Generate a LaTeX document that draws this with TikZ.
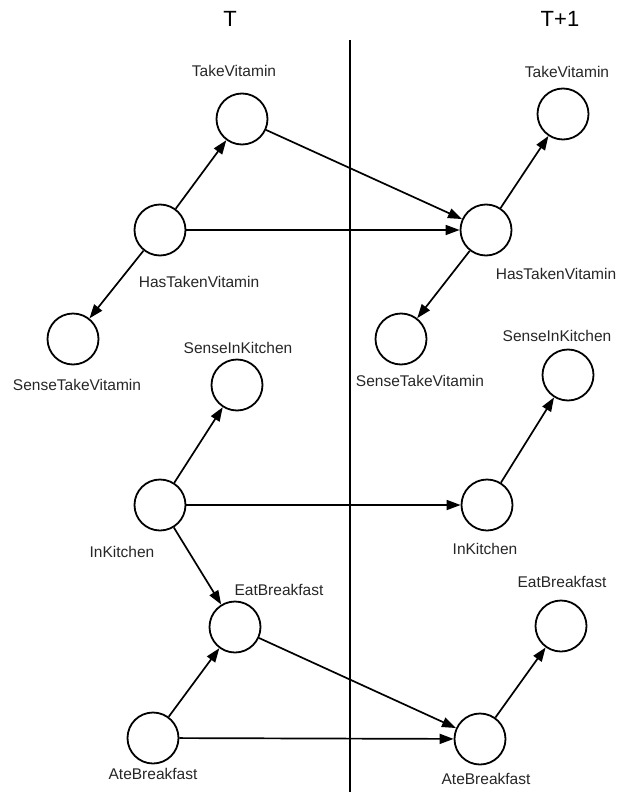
\documentclass[tikz,border=0pt]{standalone}
\usepackage{fontspec}
\setmainfont{Liberation Sans}
\usepackage{tikz}
\usetikzlibrary{arrows.meta,positioning}

\begin{document}
\begin{tikzpicture}[
	x=1pt, y=-1pt,
	font=\fontsize{15.5}{18}\selectfont,
	>={Triangle[length=14pt,width=10pt]},
	var/.style={circle, draw=black, line width=1.8pt, minimum size=51pt, inner sep=0pt},
	lbl/.style={inner sep=0pt, text=black!85},
	hdr/.style={inner sep=0pt, font=\fontsize{22}{26}\selectfont},
	dep/.style={->, line width=1.7pt},
]
\useasboundingbox (0,0) rectangle (625,792);

% time slices
\node[hdr] (hT)  at (230,19) {T};
\node[hdr] (hT1) at (560,19) {T+1};
\coordinate (sepTop) at (350,40);
\coordinate (sepBot) at (350,792);
\draw[line width=1.7pt] (sepTop) -- (sepBot);

% slice T
\node[var] (tvT)  at (242,119) {};
\node[var] (htvT) at (160,230) {};
\node[var] (stvT) at (73,339) {};
\node[var] (sikT) at (237,385) {};
\node[var] (ikT)  at (160,505) {};
\node[var] (ebT)  at (235,627) {};
\node[var] (abT)  at (153,738) {};

% slice T+1
\node[var] (tvN)  at (563,114) {};
\node[var] (htvN) at (486,230) {};
\node[var] (stvN) at (401,339) {};
\node[var] (sikN) at (568,375) {};
\node[var] (ikN)  at (487,505) {};
\node[var] (ebN)  at (561,626) {};
\node[var] (abN)  at (480,739) {};

% labels
\node[lbl] (tvT-l)   at (234,71)  {TakeVitamin};
\node[lbl] (htvT-l)  at (199,282) {HasTakenVitamin};
\node[lbl] (stvT-l)  at (77,385)  {SenseTakeVitamin};
\node[lbl] (sikT-l)  at (238,348) {SenseInKitchen};
\node[lbl] (ikT-l)   at (122,552) {InKitchen};
\node[lbl] (ebT-l)   at (279,590) {EatBreakfast};
\node[lbl] (abT-l)   at (153,774) {AteBreakfast};
\node[lbl] (tvN-l)   at (567,72)  {TakeVitamin};
\node[lbl] (htvN-l)  at (556,274) {HasTakenVitamin};
\node[lbl] (stvN-l)  at (420,381) {SenseTakeVitamin};
\node[lbl] (sikN-l)  at (557,336) {SenseInKitchen};
\node[lbl] (ikN-l)   at (485,549) {InKitchen};
\node[lbl] (ebN-l)   at (562,582) {EatBreakfast};
\node[lbl] (abN-l)   at (486,779) {AteBreakfast};

% dependencies
\draw[dep] (htvT) -- (tvT);
\draw[dep] (htvT) -- (stvT);
\draw[dep] (htvT) -- (htvN);
\draw[dep] (tvT) -- (htvN);
\draw[dep] (htvN) -- (tvN);
\draw[dep] (htvN) -- (stvN);
\draw[dep] (ikT) -- (sikT);
\draw[dep] (ikT) -- (ikN);
\draw[dep] (ikT) -- (ebT);
\draw[dep] (ikN) -- (sikN);
\draw[dep] (abT) -- (ebT);
\draw[dep] (abT) -- (abN);
\draw[dep] (ebT) -- (abN);
\draw[dep] (abN) -- (ebN);
\end{tikzpicture}
\end{document}
